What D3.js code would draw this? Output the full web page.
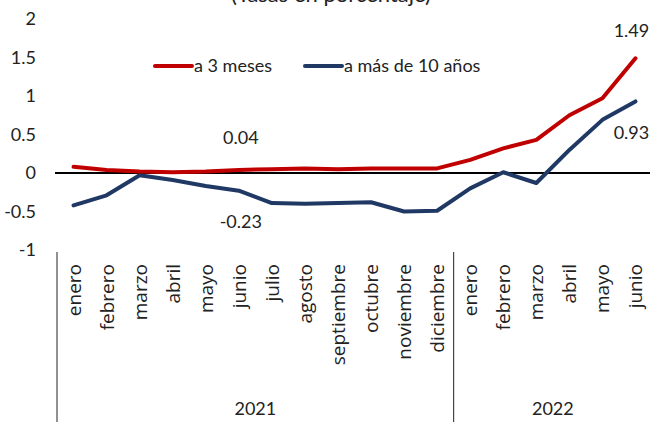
<!DOCTYPE html>
<html>
<head>
<meta charset="utf-8">
<script src="https://cdn.jsdelivr.net/npm/d3@7"></script>
<style>
  body { margin: 0; background: #fff; }
  svg { display: block; font-family: Lato, "Noto Sans", sans-serif; }
</style>
</head>
<body>
<div class="graph"></div>
<script>
// data
var months = ["enero", "febrero", "marzo", "abril", "mayo", "junio", "julio", "agosto",
              "septiembre", "octubre", "noviembre", "diciembre",
              "enero", "febrero", "marzo", "abril", "mayo", "junio"];
var years = ["2021", "2022"];
var yearCounts = [12, 6];     // months that fall in each year

var tasa3m = [0.08, 0.04, 0.02, 0.01, 0.02, 0.04, 0.05, 0.06, 0.05, 0.06, 0.06, 0.06,
              0.17, 0.32, 0.43, 0.75, 0.97, 1.49];
var tasa10a = [-0.42, -0.29, -0.03, -0.09, -0.17, -0.23, -0.39, -0.40, -0.39, -0.38, -0.50, -0.49,
               -0.20, 0.01, -0.13, 0.30, 0.69, 0.93];

var yTicks = [-1, -0.5, 0, 0.5, 1, 1.5, 2];
var seriesNames = ["a 3 meses", "a más de 10 años"];
var colors = ["#c00000", "#203864"];

// labelled points: [series index, month index, text]
var pointLabels = [[0, 5, "0.04"], [1, 5, "-0.23"], [0, 17, "1.49"], [1, 17, "0.93"]];

var W = 654, H = 422;
var left = 57, right = 652;

var svg = d3.select(".graph").append("svg")
    .attr("width", W)
    .attr("height", H);

// one band per month (index used as key, names repeat)
var x = d3.scaleBand()
    .domain(d3.range(months.length))
    .range([left, right]);

var y = d3.scaleLinear()
    .domain([-1, 2])
    .range([250, 19]);

// title, cut off at the top edge as in the picture
svg.append("text")
    .attr("x", 331)
    .attr("y", 2)
    .attr("text-anchor", "middle")
    .attr("font-size", 22)
    .attr("fill", "#222")
    .text("(Tasas en porcentaje)");

// y axis: labels only, no line
var yAxis = d3.axisLeft(y).tickValues(yTicks).tickSize(0).tickPadding(0)
    .tickFormat(function(d) { return String(d); });
var gy = svg.append("g")
    .attr("transform", "translate(36,0)")
    .call(yAxis);
gy.select(".domain").remove();
gy.selectAll("text")
    .attr("font-size", 18)
    .attr("font-family", "Lato, sans-serif")
    .attr("fill", "#222");

// zero line
svg.append("line")
    .attr("x1", left - 2).attr("x2", right - 2)
    .attr("y1", y(0)).attr("y2", y(0))
    .attr("stroke", "#000")
    .attr("stroke-width", 2);

// month labels, rotated
svg.append("g").selectAll("text")
    .data(months)
    .join("text")
    .attr("transform", function(d, i) {
        return "translate(" + (x(i) + x.bandwidth() / 2 + 7) + ",264) rotate(-90)";
    })
    .attr("text-anchor", "end")
    .attr("font-size", 19)
    .attr("font-family", "'Open Sans', sans-serif")
    .attr("fill", "#222")
    .text(function(d) { return d; });

// year groups with separators
var start = 0;
years.forEach(function(yr, k) {
    var x0 = x(start), x1 = x(start + yearCounts[k] - 1) + x.bandwidth();
    svg.append("line")
        .attr("x1", x0).attr("x2", x0)
        .attr("y1", 252).attr("y2", H)
        .attr("stroke", "#222").attr("stroke-width", 1);
    svg.append("text")
        .attr("x", (x0 + x1) / 2)
        .attr("y", 415)
        .attr("text-anchor", "middle")
        .attr("font-size", 18)
        .attr("fill", "#222")
        .text(yr);
    start += yearCounts[k];
});

// lines
var line = d3.line()
    .x(function(d, i) { return x(i) + x.bandwidth() / 2; })
    .y(function(d) { return y(d); });

[tasa10a, tasa3m].forEach(function(s, k) {
    svg.append("path")
        .datum(s)
        .attr("d", line)
        .attr("fill", "none")
        .attr("stroke", colors[1 - k])
        .attr("stroke-width", 4)
        .attr("stroke-linejoin", "round")
        .attr("stroke-linecap", "round");
});

// value labels
var allSeries = [tasa3m, tasa10a];
svg.append("g").selectAll("text")
    .data(pointLabels)
    .join("text")
    .attr("x", function(d) { return x(d[1]) + x.bandwidth() / 2; })
    .attr("y", function(d) {
        var v = allSeries[d[0]][d[1]];
        if (d[1] === 17) return d[0] === 0 ? y(v) - 21 : y(v) + 38;
        return d[0] === 0 ? y(v) - 26 : y(v) + 37;
    })
    .attr("dx", function(d) { return d[1] === 17 ? -4 : 2; })
    .attr("text-anchor", "middle")
    .attr("font-size", 18)
    .attr("fill", "#222")
    .text(function(d) { return d[2]; });

// legend
var legend = svg.append("g");
[[155, 0], [305, 1]].forEach(function(p) {
    legend.append("line")
        .attr("x1", p[0]).attr("x2", p[0] + 37)
        .attr("y1", 66).attr("y2", 66)
        .attr("stroke", colors[p[1]])
        .attr("stroke-width", 4)
        .attr("stroke-linecap", "round");
    legend.append("text")
        .attr("x", p[0] + 39)
        .attr("y", 72)
        .attr("font-size", 18)
        .attr("fill", "#222")
        .text(seriesNames[p[1]]);
});
</script>
</body>
</html>
